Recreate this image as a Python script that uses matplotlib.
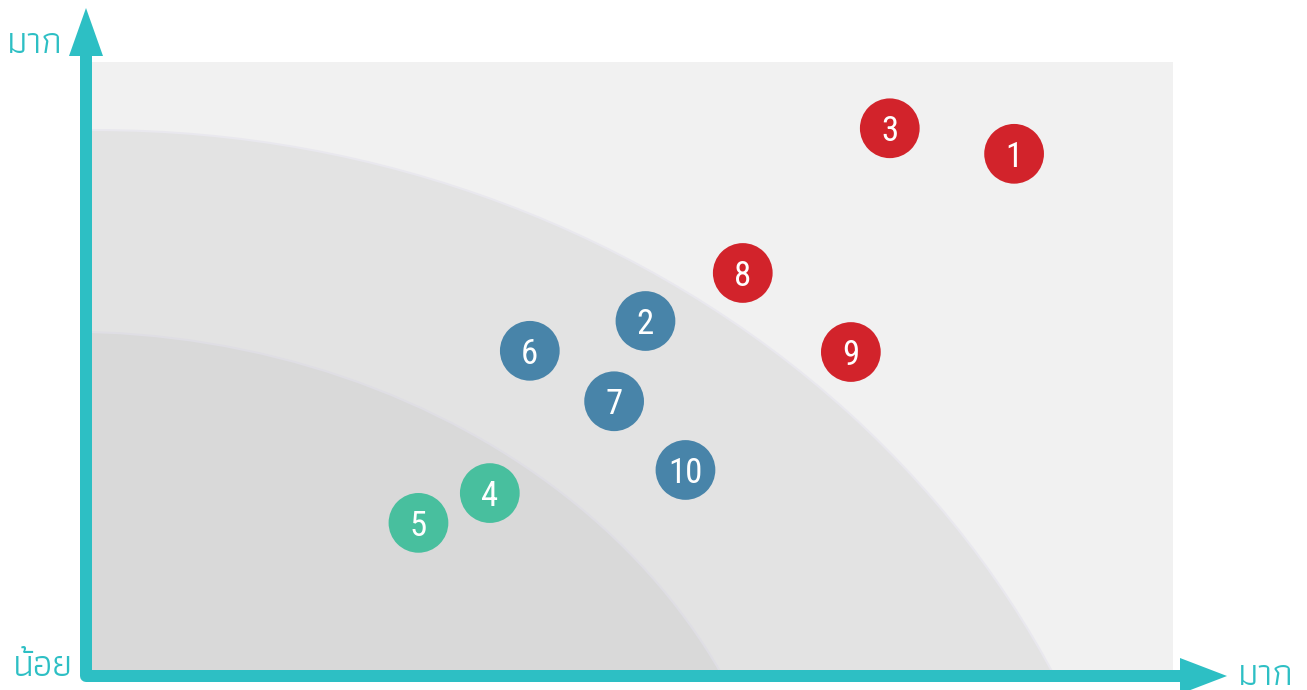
import matplotlib
matplotlib.use("Agg")
import matplotlib.pyplot as plt
from matplotlib.patches import Ellipse, Polygon

# ตำแหน่งของแต่ละหัวข้อ (0-100 ทั้งสองแกน)
labels = ['1', '2', '3', '4', '5', '6', '7', '8', '9', '10']
x_vals = [85.3, 51.2, 73.8, 36.8, 30.2, 40.5, 48.3, 60.2, 70.2, 54.9]
y_vals = [84.9, 57.4, 89.1, 29.1, 24.2, 52.5, 44.2, 65.3, 52.3, 32.9]
groups = ['high', 'mid', 'high', 'low', 'low', 'mid', 'mid', 'high', 'high', 'mid']

group_colors = {'high': '#d2232b', 'mid': '#4884a9', 'low': '#48bf9e'}
teal = '#2dbfc4'
thai_font = 'Athiti'
num_font = ['Roboto Condensed', 'Arial Narrow', 'Liberation Sans Narrow', 'Liberation Sans']

W, H = 1307, 690
fig = plt.figure(figsize=(W / 100, H / 100), dpi=100)

# พื้นที่กราฟ (สีเทาอ่อน)
ax = fig.add_axes([92 / W, 20 / H, 1081 / W, 608 / H])
ax.set_xlim(0, 100)
ax.set_ylim(0, 100)
ax.set_axis_off()
ax.add_patch(plt.Rectangle((0, 0), 100, 100, color='#f1f1f1', zorder=0))

# โซนวงรี 2 ชั้น
ax.add_patch(Ellipse((0.44, -69.9), 196.7, 317.4, facecolor='#e3e3e3',
                     edgecolor='#e9e8ee', lw=1.5, zorder=1))
ax.add_patch(Ellipse((-2.39, -42.15), 133.9, 195.6, facecolor='#d9d9d9',
                     edgecolor='#dfdee4', lw=1.5, zorder=2))

cols = [group_colors[g] for g in groups]
ax.scatter(x_vals, y_vals, s=1850, c=cols, linewidths=0, zorder=3)
for lab, xv, yv in zip(labels, x_vals, y_vals):
    ax.text(xv, yv, lab, color='white', fontsize=25, family=num_font,
            stretch='condensed', ha='center', va='center_baseline', zorder=4)

# แกนลูกศร (พิกัดพิกเซล)
ov = fig.add_axes([0, 0, 1, 1])
ov.set_xlim(0, W)
ov.set_ylim(H, 0)
ov.set_axis_off()
ov.patch.set_alpha(0)
ov.plot([86, 86, 1182], [54, 676, 676], color=teal, lw=12 * 0.72,
        solid_joinstyle='round', solid_capstyle='butt')
ov.add_patch(Polygon([(69, 56), (103, 56), (86, 8)], closed=True, color=teal, lw=0))
ov.add_patch(Polygon([(1180, 658), (1180, 694), (1227, 676)], closed=True, color=teal, lw=0))

ov.text(7, 53, 'มาก', color=teal, fontsize=27, family=thai_font, ha='left', va='baseline')
ov.text(13, 676, 'น้อย', color=teal, fontsize=27, family=thai_font, ha='left', va='baseline')
ov.text(1238, 685, 'มาก', color=teal, fontsize=27, family=thai_font, ha='left', va='baseline')

fig.savefig('out.png', dpi=100)
